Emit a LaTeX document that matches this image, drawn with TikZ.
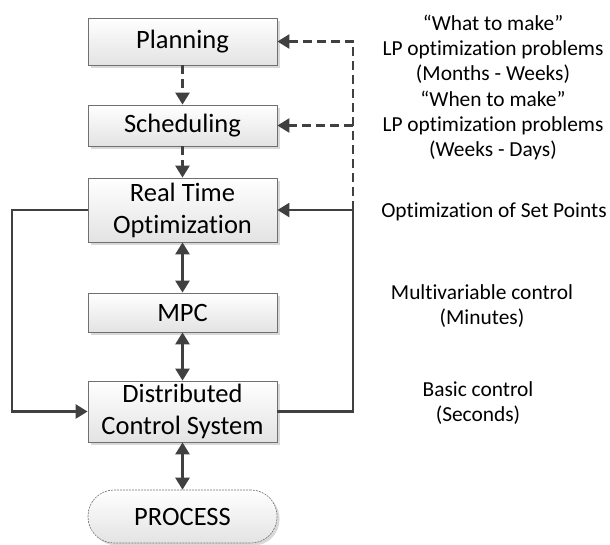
\documentclass[tikz,border=0pt]{standalone}
\usepackage{fontspec}
\setmainfont[Ligatures=NoCommon]{Carlito}
\usetikzlibrary{arrows.meta,shadows}
\definecolor{ln}{HTML}{404040}
\definecolor{bd}{HTML}{707070}
\tikzset{
  blk/.style={draw=bd, line width=0.8pt, top color=white, bottom color=black!11,
    minimum width=189pt, inner sep=0pt, align=center,
    font=\fontsize{26.5}{32}\selectfont,
    drop shadow={shadow xshift=2.5pt, shadow yshift=-2.5pt, fill=black!25, opacity=0.6}},
  procbox/.style={blk, rounded corners=26pt, draw=black!55, line width=0.6pt, dash pattern=on 2pt off 1pt},
  note/.style={align=center, inner sep=0pt, font=\fontsize{21.4}{25}\selectfont},
  conn/.style={draw=ln, line width=2.5pt},
  tipA/.style={-{Triangle[width=14pt,length=12pt]}},
  tipB/.style={{Triangle[width=14pt,length=12pt]}-{Triangle[width=14pt,length=12pt]}},
  dsh/.style={dash pattern=on 9pt off 5pt}
}
\begin{document}
\begin{tikzpicture}[x=1pt,y=-1pt]
\useasboundingbox (0,0) rectangle (610,544);
\node[blk, minimum height=47pt] (plan) at (182.5,41.5) {Planning};
\node[blk, minimum height=41pt] (sched) at (182.5,125.5) {Scheduling};
\node[blk, minimum height=64pt] (rto) at (182.5,210) {Real Time\\Optimization};
\node[blk, minimum height=39pt] (mpc) at (182.5,312.5) {MPC};
\node[blk, minimum height=61pt] (dcs) at (182.5,411.5) {Distributed\\Control System};
\node[procbox, minimum height=53pt] (proc) at (182.5,516.5) {PROCESS};

\node[note] (n1) at (493,49) {“What to make”\\LP optimization problems\\(Months - Weeks)};
\node[note] (n2) at (493,126) {“When to make”\\LP optimization problems\\(Weeks - Days)};
\node[note] (n3) at (494,212) {Optimization of Set Points};
\node[note] (n4) at (482,306) {Multivariable control\\(Minutes)};
\node[note] (n5) at (478,403) {Basic control\\(Seconds)};

\coordinate (lx) at (12,210);
\coordinate (rj) at (353,210);
\coordinate (rs) at (353,125.5);

\draw[conn, dsh, tipA] (plan) -- (sched);
\draw[conn, dsh, tipA] (sched) -- (rto);
\draw[conn, tipB] (rto) -- (mpc);
\draw[conn, tipB] (mpc) -- (dcs);
\draw[conn, tipB] (dcs) -- (proc);

\draw[conn, tipA] (rto.west) -- (lx) |- (dcs.west);
\draw[conn, tipA] (dcs.east) -| (rj) -- (rto.east);
\draw[conn, dsh, tipA] (rj) |- (plan.east);
\draw[conn, dsh, tipA] (rs) -- (sched.east);
\end{tikzpicture}
\end{document}
